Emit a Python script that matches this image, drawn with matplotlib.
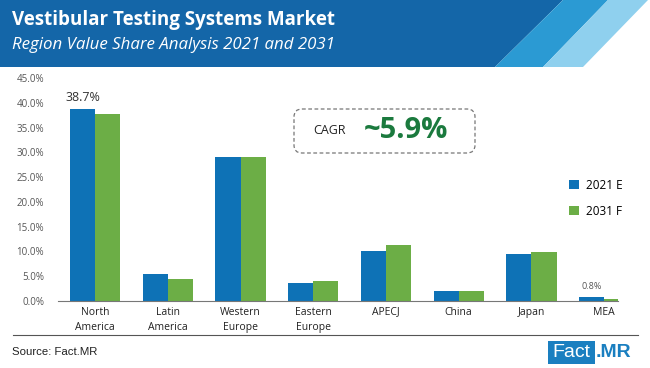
import matplotlib
matplotlib.use("Agg")
import matplotlib.pyplot as plt
from matplotlib.patches import Polygon, FancyBboxPatch, Rectangle
import numpy as np

categories = ["North\nAmerica", "Latin\nAmerica", "Western\nEurope", "Eastern\nEurope",
              "APECJ", "China", "Japan", "MEA"]
share_2021 = [38.7, 5.4, 29.0, 3.6, 10.1, 2.0, 9.5, 0.8]
share_2031 = [37.7, 4.4, 29.1, 4.0, 11.3, 2.0, 9.9, 0.5]
series_names = ["2021 E", "2031 F"]
yticks = [0, 5, 10, 15, 20, 25, 30, 35, 40, 45]

BLUE = "#0e72b6"
GREEN = "#6cae46"
W, H = 650, 368

plt.rcParams['font.family'] = ['Open Sans', 'DejaVu Sans']
fig = plt.figure(figsize=(W / 100, H / 100), dpi=100)

# Header background
bg = fig.add_axes([0, 0, 1, 1], zorder=0)
bg.set_xlim(0, W); bg.set_ylim(H, 0); bg.axis("off")
bg.add_patch(Polygon([[0, 0], [563, 0], [495, 67], [0, 67]], closed=True, color="#1466a8", lw=0))
bg.add_patch(Polygon([[563, 0], [608, 0], [543, 67], [495, 67]], closed=True, color="#2b9ad3", lw=0))
bg.add_patch(Polygon([[608, 0], [648, 0], [583, 67], [543, 67]], closed=True, color="#8fd0ee", lw=0))
bg.text(12, 20, "Vestibular Testing Systems Market", color="white", fontsize=13.5,
        fontweight="bold", va="center", ha="left")
bg.text(12, 45, "Region Value Share Analysis 2021 and 2031", color="white", fontsize=12.2,
        style="italic", va="center", ha="left")
# separator and footer
bg.plot([13, 638], [335, 335], color="#555555", lw=0.8)
bg.text(12, 352, "Source: Fact.MR", fontsize=8.2, color="#222222", va="center", ha="left",
        family=['Liberation Sans Narrow', 'Liberation Sans', 'DejaVu Sans'])
bg.add_patch(Rectangle((548, 341), 47, 23, color="#1a7fc0", lw=0))
bg.text(571.5, 352.5, "Fact", fontsize=14, color="white", va="center", ha="center",
        family=['Liberation Sans Narrow', 'Liberation Sans'])
bg.text(596, 352.5, ".MR", fontsize=14, color="#1a7fc0", va="center", ha="left",
        fontweight="bold", family=['Liberation Sans Narrow', 'Liberation Sans'])

# CAGR box
bg.add_patch(FancyBboxPatch((294, 109), 181, 44, boxstyle="round,pad=0,rounding_size=8",
                            fill=False, ec="#777777", lw=0.9, ls=(0, (3, 2))))
bg.text(330, 131, "CAGR", fontsize=9, color="#222222", va="center", ha="center")
bg.text(406, 130, "~5.9%", fontsize=21, color="#1b7a3e", fontweight="bold",
        va="center", ha="center")

# Chart axes
ax = fig.add_axes([58 / W, 1 - 301 / H, (618 - 58) / W, (301 - 78) / H], zorder=1)
ax.patch.set_alpha(0)
x = np.arange(len(categories))
bw = 0.345
ax.bar(x - bw / 2, share_2021, bw, color=BLUE, label=series_names[0])
ax.bar(x + bw / 2, share_2031, bw, color=GREEN, label=series_names[1])
ax.set_xlim(-0.51, 7.19)
ax.set_ylim(0, 45)
ax.set_yticks(yticks)
ax.set_yticklabels([f"{v:.1f}%" for v in yticks], fontsize=7, color="#555555")
ax.set_xticks(x)
ax.set_xticklabels(categories, fontsize=7.5, color="#222222", linespacing=1.5)
ax.tick_params(axis="both", length=0, pad=4)
ax.tick_params(axis="y", pad=10)
for s in ["top", "right", "left"]:
    ax.spines[s].set_visible(False)
ax.spines["bottom"].set_color("#777777")
ax.spines["bottom"].set_linewidth(0.8)

ax.annotate(f"{share_2021[0]}%", (x[0] - bw / 2, share_2021[0]), xytext=(0, 4),
            textcoords="offset points", ha="center", va="bottom", fontsize=9, color="#333333")
ax.annotate(f"{share_2021[7]}%", (x[7] - bw / 2, share_2021[7]), xytext=(0, 4),
            textcoords="offset points", ha="center", va="bottom", fontsize=6.5, color="#555555")

ax.legend(loc="upper left", bbox_to_anchor=(558 / W, 1 - 168 / H),
          bbox_transform=fig.transFigure, frameon=False, fontsize=8.5,
          handlelength=0.9, handleheight=0.9, labelspacing=1.1, handletextpad=0.6)

fig.savefig("out.png", dpi=100)
